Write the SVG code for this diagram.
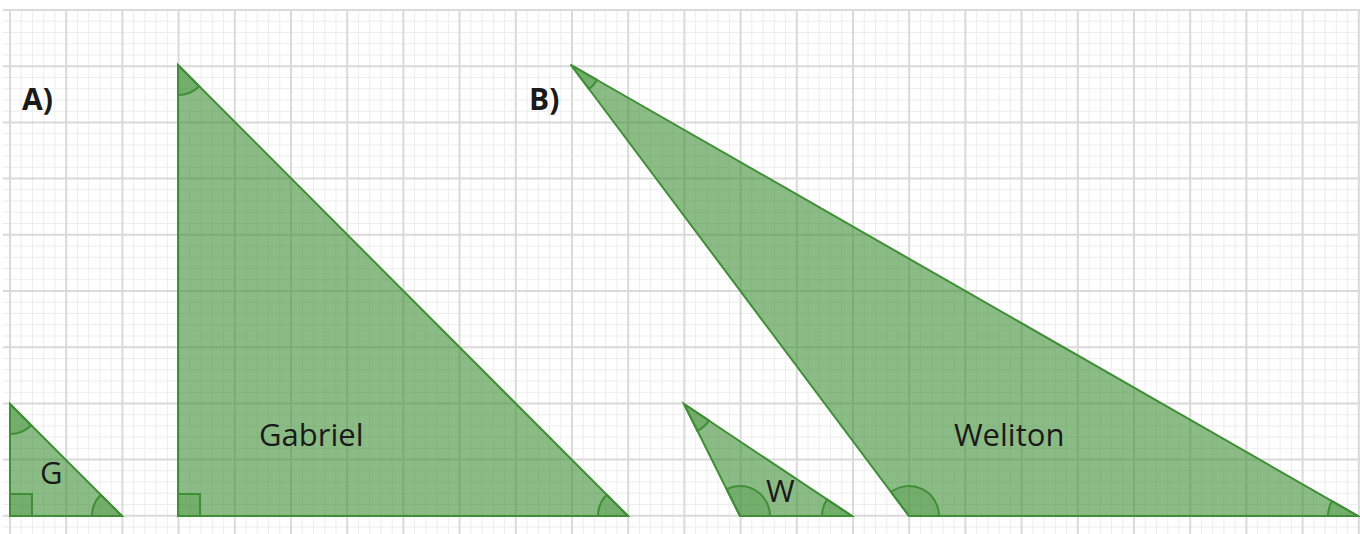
<svg xmlns="http://www.w3.org/2000/svg" width="1360" height="534" viewBox="0 0 1360 534">
<style>
.tri{fill:#3f8f36;fill-opacity:0.6;stroke:#3f8f36;stroke-width:2;stroke-linejoin:round}
.ang{fill:#3f8f36;fill-opacity:0.3;stroke:#3f8f36;stroke-width:2}
.lbl{font-family:"Open Sans","Liberation Sans",sans-serif;font-size:31px;fill:#1a1a1a}
.head{font-family:"Open Sans","Liberation Sans",sans-serif;font-size:30px;font-weight:bold;fill:#1a1a1a}
</style>
<rect width="1360" height="534" fill="#ffffff"/>
<g id="grid">
<line x1="9.5" y1="272" x2="1360" y2="272" stroke="#ededed" stroke-width="524" stroke-dasharray="1 10.24"/>
<line x1="681.5" y1="9.5" x2="681.5" y2="534" stroke="#ededed" stroke-width="1357" stroke-dasharray="1 10.24"/>
<line x1="9" y1="272" x2="1360" y2="272" stroke="#dadada" stroke-width="524" stroke-dasharray="2 54.2"/>
<line x1="681.5" y1="9" x2="681.5" y2="534" stroke="#dadada" stroke-width="1357" stroke-dasharray="2 54.2"/>
</g>
<g id="label-A"><text class="head" x="22" y="110">A)</text></g>
<g id="label-B"><text class="head" x="529" y="110">B)</text></g>
<g id="triangle-G">
<polygon class="tri" points="10,404 10,516 122,516"/>
<path class="ang" d="M10 404 L10 434 A30 30 0 0 0 31.2 425.2 Z"/>
<path class="ang" d="M122 516 L92 516 A30 30 0 0 1 100.8 494.8 Z"/>
<rect class="ang" x="10" y="494" width="22" height="22"/>
<text class="lbl" x="40" y="484">G</text>
</g>
<g id="triangle-Gabriel">
<polygon class="tri" points="178,65 178,516 628,516"/>
<path class="ang" d="M178 65 L178 95 A30 30 0 0 0 199.2 86.2 Z"/>
<path class="ang" d="M628 516 L598 516 A30 30 0 0 1 606.8 494.8 Z"/>
<rect class="ang" x="178" y="494" width="22" height="22"/>
<text class="lbl" x="259" y="446">Gabriel</text>
</g>
<g id="triangle-W">
<polygon class="tri" points="684,404 740,516 852,516"/>
<path class="ang" d="M684 404 L697.4 430.8 A30 30 0 0 0 709 420.6 Z"/>
<path class="ang" d="M740 516 L770 516 A30 30 0 0 0 726.6 489.2 Z"/>
<path class="ang" d="M852 516 L822 516 A30 30 0 0 1 827 499.4 Z"/>
<text class="lbl" x="766" y="502">W</text>
</g>
<g id="triangle-Weliton">
<polygon class="tri" points="571,65 909,516 1358,516"/>
<path class="ang" d="M571 65 L589 89 A30 30 0 0 0 597 79.9 Z"/>
<path class="ang" d="M909 516 L939 516 A30 30 0 0 0 891 492 Z"/>
<path class="ang" d="M1358 516 L1328 516 A30 30 0 0 1 1332 501.1 Z"/>
<text class="lbl" x="954" y="446">Weliton</text>
</g>
</svg>
